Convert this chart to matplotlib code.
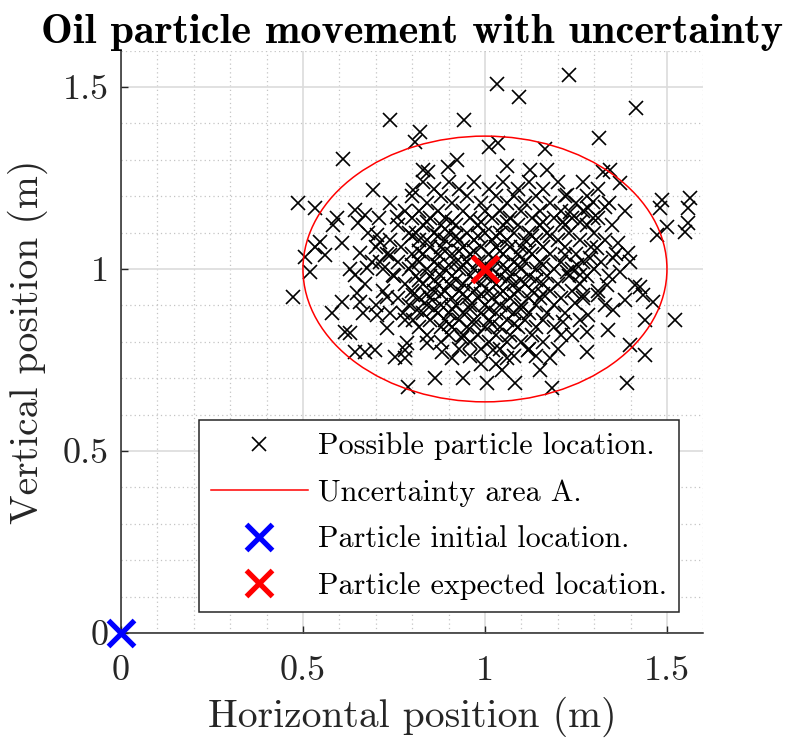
import matplotlib
matplotlib.use("Agg")
import matplotlib.pyplot as plt
from matplotlib.lines import Line2D
from matplotlib.patches import Ellipse

# Sampled particle positions (m)
particle_x = [
    1.231, 1.033, 1.093, 1.415, 0.739, 0.942, 0.610, 0.821, 0.808, 1.011,
    1.036, 1.313, 1.060, 1.170, 0.923, 0.898, 0.843, 1.343, 0.830, 1.124,
    1.165, 1.324,
    0.692, 0.486, 0.533, 0.593, 0.643, 0.670, 0.651, 0.582, 0.758, 0.802,
    0.547, 0.607, 0.533, 0.560, 0.505, 0.519, 0.657, 0.703, 0.712, 0.676,
    0.643, 0.712, 0.739, 0.747,
    1.371, 1.486, 1.563, 1.481, 1.558, 1.500, 1.558, 1.549, 1.473, 1.385,
    1.365, 1.393, 1.398, 1.330, 1.297, 1.283, 1.225, 1.234, 1.297, 1.261,
    1.214, 1.308, 1.288, 1.352, 1.253, 1.220, 1.371, 1.412, 1.426, 1.335,
    1.261, 1.225,
    1.522, 1.440, 1.440, 1.398, 1.390, 1.280, 1.338, 1.280, 1.239, 1.247,
    1.352, 1.385, 1.462, 1.434, 1.214, 1.283, 1.310, 1.269,
    0.473, 0.607, 0.580, 0.657, 0.665, 0.615, 0.629, 0.643, 0.670, 0.698,
    0.731, 0.731, 0.703, 0.753, 0.780, 0.780, 0.786, 0.788, 0.775, 0.802,
    0.813, 0.802, 0.648,
    0.863, 0.940, 1.005, 1.047, 1.082, 1.151, 1.184, 1.179, 1.118, 0.882,
    0.909, 0.841, 1.022, 1.060, 0.937,
    # central cloud, row by row
    0.83, 0.90, 0.97, 1.05, 1.12, 1.20, 1.27,
    0.86, 0.93, 1.01, 1.09, 1.16, 1.31,
    0.80, 0.88, 0.95, 1.03, 1.08, 1.14, 1.22, 1.28,
    0.74, 0.84, 0.91, 0.99, 1.06, 1.11, 1.18, 1.25, 1.34,
    0.78, 0.82, 0.87, 0.94, 1.00, 1.04, 1.10, 1.15, 1.21, 1.27,
    0.71, 0.80, 0.85, 0.89, 0.96, 1.02, 1.07, 1.13, 1.19, 1.24, 1.31,
    0.76, 0.83, 0.88, 0.92, 0.98, 1.05, 1.09, 1.15, 1.22, 1.28, 1.35,
    0.68, 0.79, 0.81, 0.86, 0.90, 0.95, 1.00, 1.04, 1.08, 1.12, 1.17, 1.23, 1.30,
    0.74, 0.82, 0.84, 0.89, 0.93, 0.97, 1.02, 1.06, 1.11, 1.14, 1.20, 1.26, 1.33,
    0.70, 0.77, 0.85, 0.88, 0.94, 0.99, 1.03, 1.07, 1.10, 1.16, 1.22, 1.29,
    0.73, 0.80, 0.83, 0.87, 0.91, 0.96, 1.01, 1.05, 1.09, 1.13, 1.18, 1.25, 1.36,
    0.69, 0.76, 0.82, 0.86, 0.92, 0.95, 0.98, 1.03, 1.08, 1.11, 1.15, 1.21, 1.27, 1.32,
    0.63, 0.72, 0.79, 0.84, 0.89, 0.93, 0.97, 1.02, 1.06, 1.10, 1.14, 1.19, 1.24, 1.30,
    0.75, 0.81, 0.85, 0.88, 0.91, 0.96, 1.00, 1.04, 1.07, 1.12, 1.17, 1.23, 1.28, 1.34,
    0.67, 0.78, 0.83, 0.87, 0.90, 0.94, 0.99, 1.03, 1.08, 1.11, 1.16, 1.20, 1.26,
    0.72, 0.80, 0.86, 0.89, 0.93, 0.97, 1.01, 1.05, 1.09, 1.13, 1.18, 1.24, 1.31,
    0.76, 0.82, 0.85, 0.91, 0.95, 0.98, 1.02, 1.07, 1.12, 1.15, 1.21, 1.27,
    0.70, 0.79, 0.84, 0.88, 0.92, 0.96, 1.00, 1.04, 1.10, 1.14, 1.19, 1.33,
    0.74, 0.83, 0.87, 0.90, 0.94, 0.99, 1.03, 1.08, 1.12, 1.17, 1.22,
    0.78, 0.85, 0.89, 0.93, 0.97, 1.01, 1.06, 1.11, 1.16, 1.26,
    0.82, 0.88, 0.91, 0.95, 1.00, 1.04, 1.09, 1.14, 1.19,
    0.84, 0.90, 0.94, 0.98, 1.03, 1.07, 1.13, 1.21,
    0.88, 0.96, 1.01, 1.06, 1.10, 1.16,
    0.93, 0.99, 1.04, 1.12, 1.20,
    0.96, 1.08, 1.14,
    0.99, 1.03,
    # dense core, in-between rows
    0.84, 0.91, 0.99, 1.06, 1.16,
    0.80, 0.87, 0.92, 0.98, 1.03, 1.13, 1.18,
    0.82, 0.89, 0.93, 0.97, 1.04, 1.12,
    0.80, 0.87, 0.90, 0.94, 1.00, 1.05, 1.09, 1.16,
    0.82, 0.86, 0.92, 0.97, 1.02, 1.06, 1.10, 1.14,
    0.84, 0.88, 0.94, 0.99, 1.04, 1.08, 1.16,
    0.86, 0.91, 0.96, 1.01, 1.06, 1.10,
    0.90, 0.97, 1.02, 1.08,
]
particle_y = [
    1.533, 1.508, 1.473, 1.442, 1.409, 1.409, 1.302, 1.376, 1.349, 1.335,
    1.346, 1.360, 1.283, 1.272, 1.299, 1.280, 1.266, 1.272, 1.272, 1.272,
    1.330, 1.266,
    1.217, 1.181, 1.168, 1.140, 1.162, 1.148, 1.126, 1.121, 1.143, 1.217,
    1.074, 1.071, 1.060, 1.038, 1.033, 0.992, 1.044, 1.093, 1.074, 1.003,
    0.984, 1.019, 1.038, 0.984,
    1.236, 1.190, 1.195, 1.168, 1.168, 1.115, 1.126, 1.102, 1.093, 1.159,
    1.071, 1.044, 1.019, 1.170, 1.184, 1.168, 1.203, 1.157, 1.140, 1.129,
    1.129, 1.058, 1.030, 1.030, 1.011, 1.038, 0.992, 0.956, 0.951, 0.956,
    0.984, 0.992,
    0.860, 0.860, 0.764, 0.791, 0.687, 0.772, 0.832, 0.827, 0.819, 0.907,
    0.887, 0.915, 0.909, 0.929, 0.854, 0.874, 0.929, 0.929,
    0.923, 0.909, 0.879, 0.909, 0.879, 0.827, 0.824, 0.772, 0.772, 0.777,
    0.923, 0.838, 0.874, 0.758, 0.755, 0.777, 0.797, 0.676, 0.879, 0.860,
    0.887, 0.929, 0.934,
    0.701, 0.701, 0.687, 0.723, 0.687, 0.723, 0.673, 0.755, 0.777, 0.772,
    0.755, 0.797, 0.777, 0.755, 0.810,
    # central cloud, row by row
    1.24, 1.24, 1.24, 1.24, 1.24, 1.24, 1.24,
    1.22, 1.22, 1.22, 1.22, 1.22, 1.22,
    1.20, 1.20, 1.20, 1.20, 1.20, 1.20, 1.20, 1.20,
    1.18, 1.18, 1.18, 1.18, 1.18, 1.18, 1.18, 1.18, 1.18,
    1.16, 1.16, 1.16, 1.16, 1.16, 1.16, 1.16, 1.16, 1.16, 1.16,
    1.14, 1.14, 1.14, 1.14, 1.14, 1.14, 1.14, 1.14, 1.14, 1.14, 1.14,
    1.12, 1.12, 1.12, 1.12, 1.12, 1.12, 1.12, 1.12, 1.12, 1.12, 1.12,
    1.10, 1.10, 1.10, 1.10, 1.10, 1.10, 1.10, 1.10, 1.10, 1.10, 1.10, 1.10, 1.10,
    1.08, 1.08, 1.08, 1.08, 1.08, 1.08, 1.08, 1.08, 1.08, 1.08, 1.08, 1.08, 1.08,
    1.06, 1.06, 1.06, 1.06, 1.06, 1.06, 1.06, 1.06, 1.06, 1.06, 1.06, 1.06,
    1.04, 1.04, 1.04, 1.04, 1.04, 1.04, 1.04, 1.04, 1.04, 1.04, 1.04, 1.04, 1.04,
    1.02, 1.02, 1.02, 1.02, 1.02, 1.02, 1.02, 1.02, 1.02, 1.02, 1.02, 1.02, 1.02, 1.02,
    1.00, 1.00, 1.00, 1.00, 1.00, 1.00, 1.00, 1.00, 1.00, 1.00, 1.00, 1.00, 1.00, 1.00,
    0.98, 0.98, 0.98, 0.98, 0.98, 0.98, 0.98, 0.98, 0.98, 0.98, 0.98, 0.98, 0.98, 0.98,
    0.96, 0.96, 0.96, 0.96, 0.96, 0.96, 0.96, 0.96, 0.96, 0.96, 0.96, 0.96, 0.96,
    0.94, 0.94, 0.94, 0.94, 0.94, 0.94, 0.94, 0.94, 0.94, 0.94, 0.94, 0.94, 0.94,
    0.92, 0.92, 0.92, 0.92, 0.92, 0.92, 0.92, 0.92, 0.92, 0.92, 0.92, 0.92,
    0.90, 0.90, 0.90, 0.90, 0.90, 0.90, 0.90, 0.90, 0.90, 0.90, 0.90, 0.90,
    0.88, 0.88, 0.88, 0.88, 0.88, 0.88, 0.88, 0.88, 0.88, 0.88, 0.88,
    0.86, 0.86, 0.86, 0.86, 0.86, 0.86, 0.86, 0.86, 0.86, 0.86,
    0.84, 0.84, 0.84, 0.84, 0.84, 0.84, 0.84, 0.84, 0.84,
    0.82, 0.82, 0.82, 0.82, 0.82, 0.82, 0.82, 0.82,
    0.80, 0.80, 0.80, 0.80, 0.80, 0.80,
    0.78, 0.78, 0.78, 0.78, 0.78,
    0.76, 0.76, 0.76,
    0.74, 0.74,
    # dense core, in-between rows
    1.13, 1.13, 1.13, 1.13, 1.13,
    1.09, 1.09, 1.09, 1.09, 1.09, 1.09, 1.09,
    1.05, 1.05, 1.05, 1.05, 1.05, 1.05,
    1.01, 1.01, 1.01, 1.01, 1.01, 1.01, 1.01, 1.01,
    0.97, 0.97, 0.97, 0.97, 0.97, 0.97, 0.97, 0.97,
    0.93, 0.93, 0.93, 0.93, 0.93, 0.93, 0.93,
    0.89, 0.89, 0.89, 0.89, 0.89, 0.89,
    0.85, 0.85, 0.85, 0.85,
]

initial_location = (0.0, 0.0)
expected_location = (1.0, 1.0)
# uncertainty ellipse semi-axes (m)
area_semi_x = 0.50
area_semi_y = 0.365

x_ticks = [0, 0.5, 1, 1.5]
x_tick_labels = ["0", "0.5", "1", "1.5"]
y_ticks = [0, 0.5, 1, 1.5]
y_tick_labels = ["0", "0.5", "1", "1.5"]
minor_ticks = [0.1, 0.2, 0.3, 0.4, 0.6, 0.7, 0.8, 0.9, 1.1, 1.2, 1.3, 1.4, 1.6]

legend_labels = [
    "Possible particle location.",
    "Uncertainty area A.",
    "Particle initial location.",
    "Particle expected location.",
]

REG = "cmr10"
BOLD = "cmb10"
plt.rcParams["axes.formatter.use_mathtext"] = True
AX_COLOR = "#262626"

fig = plt.figure(figsize=(7.85, 7.47), dpi=100)
ax = fig.add_axes([0.1541, 0.1526, 0.7419, 0.7797])
ax.set_xlim(0, 1.6)
ax.set_ylim(0, 1.6)

# grid: solid major, dotted minor
ax.set_xticks(x_ticks)
ax.set_yticks(y_ticks)
ax.set_xticks(minor_ticks, minor=True)
ax.set_yticks(minor_ticks, minor=True)
ax.set_xticklabels(x_tick_labels, family=REG, fontsize=26, color=AX_COLOR)
ax.set_yticklabels(y_tick_labels, family=REG, fontsize=26, color=AX_COLOR)
ax.grid(True, which="major", color="#dcdcdc", linewidth=1.2, linestyle="-")
ax.grid(True, which="minor", color="#c4c4c4", linewidth=0.9, linestyle=(0, (1, 2.5)))
ax.set_axisbelow(True)
ax.tick_params(which="major", direction="in", length=5, width=1.0,
               color=AX_COLOR)
ax.tick_params(axis="y", which="major", pad=9)
ax.tick_params(axis="x", which="major", pad=16)
ax.tick_params(which="minor", length=0)

for side in ("top", "right"):
    ax.spines[side].set_visible(False)
for side in ("left", "bottom"):
    ax.spines[side].set_color(AX_COLOR)
    ax.spines[side].set_linewidth(1.1)

ax.plot(particle_x, particle_y, linestyle="none", marker="x", color="k",
        markersize=10.5, markeredgewidth=1.2, zorder=3)

ax.add_patch(Ellipse(expected_location, 2 * area_semi_x, 2 * area_semi_y,
                     fill=False, edgecolor="red", linewidth=1.1, zorder=4))

ax.plot([initial_location[0]], [initial_location[1]], linestyle="none",
        marker="x", color="blue", markersize=19, markeredgewidth=3.8,
        zorder=6, clip_on=False)
ax.plot([expected_location[0]], [expected_location[1]], linestyle="none",
        marker="x", color="red", markersize=19, markeredgewidth=3.8, zorder=6)

handles = [
    Line2D([], [], linestyle="none", marker="x", color="k",
           markersize=10.5, markeredgewidth=1.2),
    Line2D([], [], color="red", linewidth=1.1),
    Line2D([], [], linestyle="none", marker="x", color="blue",
           markersize=19, markeredgewidth=3.8),
    Line2D([], [], linestyle="none", marker="x", color="red",
           markersize=19, markeredgewidth=3.8),
]
leg = ax.legend(handles, legend_labels, loc="lower right",
                bbox_to_anchor=(0.958, 0.036), prop={"family": REG, "size": 21.7},
                frameon=True, fancybox=False, framealpha=1.0,
                edgecolor=AX_COLOR, handlelength=3.22, handletextpad=0.33,
                labelspacing=0.62, borderpad=0.4, borderaxespad=0.0,
                numpoints=1)
leg.get_frame().set_linewidth(1.1)
leg.set_zorder(7)

ax.set_xlabel("Horizontal position (m)", family=REG, fontsize=28.5,
              color=AX_COLOR, labelpad=7)
ax.set_ylabel("Vertical position (m)", family=REG, fontsize=28.5,
              color=AX_COLOR, labelpad=10)
ax.set_title("Oil particle movement with uncertainty", family=BOLD,
             fontsize=30.5, color="k", pad=4)

fig.savefig("out.png", dpi=100)
